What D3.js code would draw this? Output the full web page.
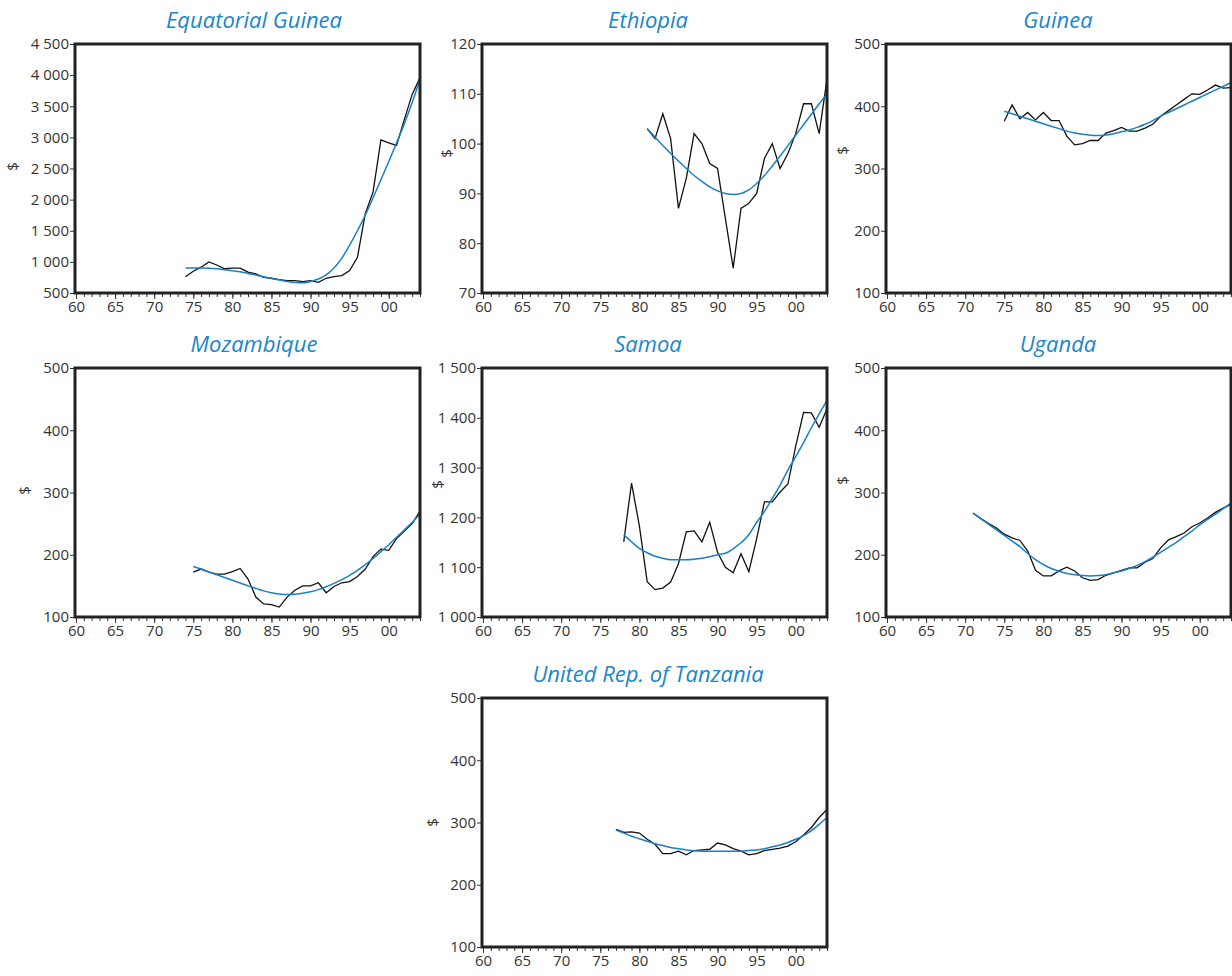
<!DOCTYPE html>
<html>
<head>
<meta charset="utf-8">
<script src="https://cdn.jsdelivr.net/npm/d3@7"></script>
<style>
  body { margin: 0; background: #fff; }
  svg { display: block; font-family: "Open Sans", sans-serif; }
</style>
</head>
<body>
<svg width="1232" height="976"></svg>
<script>
/* global d3 */
// GDP per capita ($), actual series (black) and fitted trend (blue).
const eqGuineaStart = 1974;
const eqGuineaActual = [760, 850, 915, 1000, 950, 890, 900, 900, 835, 806, 750, 737, 715, 700, 700, 683, 700, 672, 737, 763, 780, 860, 1075, 1774, 2124, 2960, 2910, 2870, 3290, 3690, 3960];
const eqGuineaTrend = [900, 900, 900, 898, 890, 875, 858, 840, 815, 790, 760, 733, 708, 685, 668, 663, 685, 725, 790, 900, 1060, 1270, 1500, 1750, 2030, 2320, 2610, 2910, 3220, 3560, 3930];

const ethiopiaStart = 1981;
const ethiopiaActual = [103, 101, 106, 101, 87, 93, 102, 100, 96, 95, 85, 75, 87, 88, 90, 97, 100, 95, 98, 102, 108, 108, 102, 113];
const ethiopiaTrend = [103, 101.3, 99.6, 98, 96.5, 95, 93.6, 92.4, 91.3, 90.5, 90, 89.8, 90, 90.7, 92, 93.6, 95.5, 97.5, 99.6, 101.7, 103.8, 105.9, 108, 110];

const guineaStart = 1975;
const guineaActual = [376, 402, 380, 390, 378, 390, 377, 377, 352, 338, 340, 345, 345, 357, 361, 366, 360, 360, 365, 371, 384, 393, 402, 411, 420, 419, 426, 434, 429, 430];
const guineaTrend = [392, 388, 384, 380, 376, 372, 368, 364, 360, 357, 355, 353.5, 353, 354, 356, 359, 362, 366, 371, 377, 384, 390, 396, 402, 408, 414, 420, 426, 432, 438];

const mozambiqueStart = 1975;
const mozambiqueActual = [172, 177, 172, 169, 169, 173, 178, 161, 132, 121, 120, 116, 132, 143, 150, 150, 155, 139, 149, 155, 157, 165, 177, 197, 209, 207, 226, 238, 250, 270];
const mozambiqueTrend = [181, 177, 172.5, 168, 163.5, 159, 154.5, 150, 146, 142, 139, 137, 136, 136.5, 138, 140.5, 144, 148.5, 154, 160, 167, 175, 184, 194, 205, 216, 228, 240, 252, 265];

const samoaStart = 1978;
const samoaActual = [1151, 1269, 1183, 1071, 1055, 1058, 1070, 1107, 1171, 1173, 1151, 1190, 1130, 1100, 1089, 1127, 1091, 1157, 1231, 1231, 1251, 1267, 1343, 1411, 1410, 1381, 1418];
const samoaTrend = [1165, 1151, 1138, 1129, 1122, 1118, 1115, 1115, 1115, 1116, 1118, 1121, 1125, 1128, 1137, 1149, 1165, 1190, 1212, 1238, 1265, 1295, 1322, 1350, 1380, 1408, 1435];

const ugandaStart = 1971;
const ugandaActual = [267, 258, 250, 243, 233, 227, 223, 206, 175, 166, 166, 174, 180, 174, 163, 159, 160, 167, 171, 175, 179, 179, 188, 194, 211, 224, 229, 235, 245, 251, 259, 268, 275, 281];
const ugandaTrend = [267, 258, 249, 240, 231, 222, 213, 202, 192, 184, 178, 173.5, 170, 168, 166.5, 166, 166.5, 168, 171, 174, 178, 183, 189, 196, 204, 212, 220, 229, 238, 248, 257, 265, 274, 283];

const tanzaniaStart = 1977;
const tanzaniaActual = [289, 284, 285, 283, 273, 265, 250, 250, 254, 248, 255, 256, 257, 267, 264, 258, 254, 248, 250, 255, 257, 259, 262, 269, 280, 292, 308, 321];
const tanzaniaTrend = [288, 283, 278, 274, 270, 266, 263, 260, 258, 256, 254.5, 254, 254, 254, 254, 254, 254, 255, 256, 258, 261, 264, 268, 273, 279, 287, 297, 308];

const yearTicks = d3.range(1960, 2001, 5);
const yearMinor = d3.range(1960, 2005);

// Layout of the grid (pixels)
const colLeft = [75, 482, 886];
const colTitle = [254, 648, 1058];
const rowTop = [44, 368, 698];
const panelW = 345;
const panelH = 249;

const panels = [
  { name: 'Equatorial Guinea', start: eqGuineaStart, actual: eqGuineaActual, trend: eqGuineaTrend, yMin: 500, yMax: 4500, yStep: 500, col: 0, row: 0, labelDx: -57, labelDy: -2 },
  { name: 'Ethiopia', start: ethiopiaStart, actual: ethiopiaActual, trend: ethiopiaTrend, yMin: 70, yMax: 120, yStep: 10, col: 1, row: 0, labelDx: -30, labelDy: -15 },
  { name: 'Guinea', start: guineaStart, actual: guineaActual, trend: guineaTrend, yMin: 100, yMax: 500, yStep: 100, col: 2, row: 0, labelDx: -38, labelDy: -18 },
  { name: 'Mozambique', start: mozambiqueStart, actual: mozambiqueActual, trend: mozambiqueTrend, yMin: 100, yMax: 500, yStep: 100, col: 0, row: 1, labelDx: -45, labelDy: -2 },
  { name: 'Samoa', start: samoaStart, actual: samoaActual, trend: samoaTrend, yMin: 1000, yMax: 1500, yStep: 100, col: 1, row: 1, labelDx: -39, labelDy: -8 },
  { name: 'Uganda', start: ugandaStart, actual: ugandaActual, trend: ugandaTrend, yMin: 100, yMax: 500, yStep: 100, col: 2, row: 1, labelDx: -38, labelDy: -12 },
  { name: 'United Rep. of Tanzania', start: tanzaniaStart, actual: tanzaniaActual, trend: tanzaniaTrend, yMin: 100, yMax: 500, yStep: 100, col: 1, row: 2, labelDx: -44, labelDy: 0 },
];

const locale = d3.formatLocale({ decimal: '.', thousands: ' ', grouping: [3], currency: ['$', ''] });
const fmt = locale.format(',');

const svg = d3.select('svg');

function drawPanel(p) {
  const g = svg.append('g')
    .attr('transform', `translate(${colLeft[p.col]},${rowTop[p.row]})`);

  const x = d3.scaleLinear().domain([1960, 2004]).range([1, panelW]);
  const y = d3.scaleLinear().domain([p.yMin, p.yMax]).range([panelH, 0]);

  // title
  svg.append('text')
    .attr('x', colTitle[p.col])
    .attr('y', rowTop[p.row] - 16)
    .attr('text-anchor', 'middle')
    .attr('font-style', 'italic')
    .attr('font-size', 22)
    .attr('fill', '#1a86cc')
    .text(p.name);

  // axes
  const yAxis = d3.axisLeft(y)
    .tickValues(d3.range(p.yMin, p.yMax + 1, p.yStep))
    .tickSize(5).tickPadding(1)
    .tickFormat(fmt);
  const xMinor = d3.axisBottom(x).tickValues(yearMinor).tickSize(4).tickFormat('');
  const xMajor = d3.axisBottom(x).tickValues(yearTicks).tickSize(6).tickPadding(2)
    .tickFormat(d => String(d).slice(2));

  g.append('g').call(yAxis);
  g.append('g').attr('transform', `translate(0,${panelH})`).call(xMinor);
  g.append('g').attr('transform', `translate(0,${panelH})`).call(xMajor);
  g.selectAll('.domain').remove();
  g.selectAll('.tick line').attr('stroke', '#333');
  g.selectAll('.tick text')
    .attr('font-family', '"Open Sans", sans-serif')
    .attr('font-size', 15)
    .attr('fill', '#333');

  // "$" label
  g.append('text')
    .attr('transform', `translate(${p.labelDx},${panelH / 2 + p.labelDy}) rotate(-90)`)
    .attr('text-anchor', 'middle')
    .attr('font-size', 15)
    .attr('fill', '#333')
    .text('$');

  const actual = p.actual.map((v, i) => ({ year: p.start + i, v }));
  const trend = p.trend.map((v, i) => ({ year: p.start + i, v }));

  g.append('path')
    .datum(actual)
    .attr('fill', 'none')
    .attr('stroke', '#111')
    .attr('stroke-width', 1.3)
    .attr('d', d3.line().x(d => x(d.year)).y(d => y(d.v)));

  g.append('path')
    .datum(trend)
    .attr('fill', 'none')
    .attr('stroke', '#1a7fc4')
    .attr('stroke-width', 1.5)
    .attr('d', d3.line().curve(d3.curveMonotoneX).x(d => x(d.year)).y(d => y(d.v)));

  // frame
  g.append('rect')
    .attr('x', 0).attr('y', 0)
    .attr('width', panelW).attr('height', panelH)
    .attr('fill', 'none')
    .attr('stroke', '#222')
    .attr('stroke-width', 3);
}

panels.forEach(drawPanel);
</script>
</body>
</html>
